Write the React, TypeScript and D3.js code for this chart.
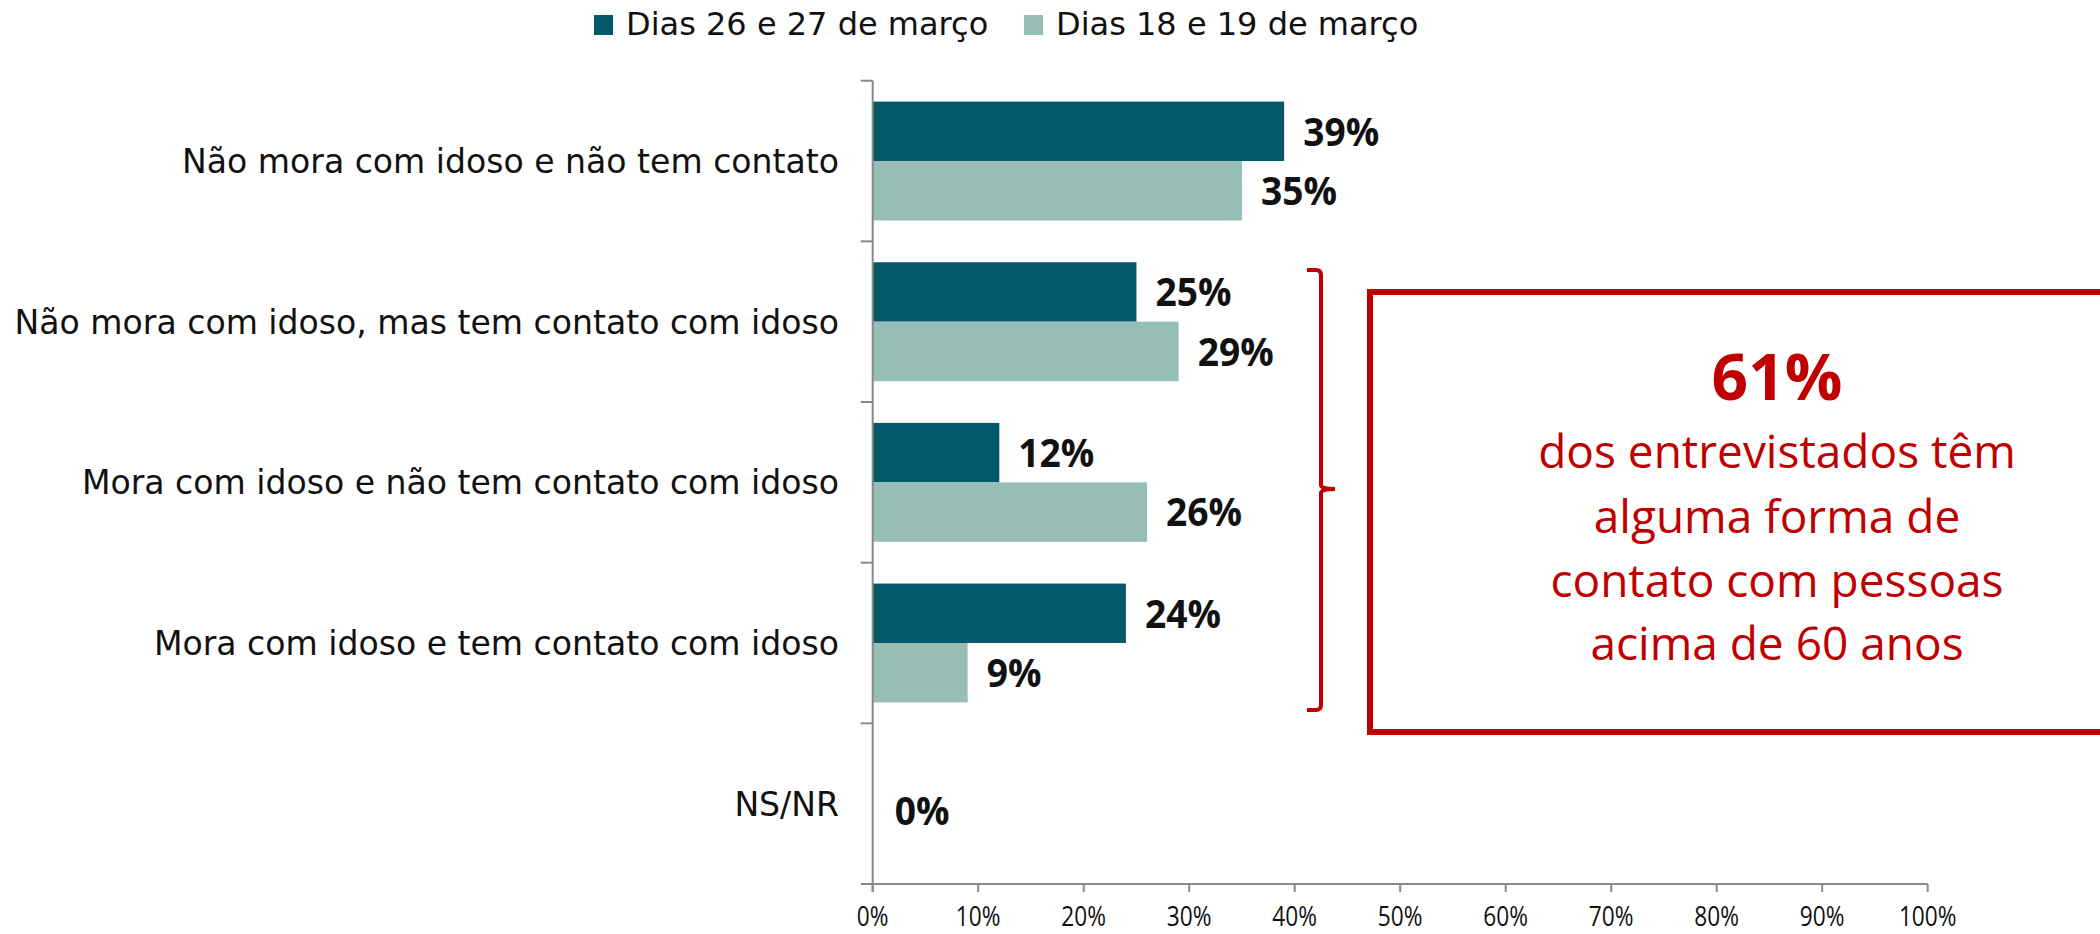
import React from "react";
import * as d3 from "d3";

const categories = [
  "Não mora com idoso e não tem contato",
  "Não mora com idoso, mas tem contato com idoso",
  "Mora com idoso e não tem contato com idoso",
  "Mora com idoso e tem contato com idoso",
  "NS/NR",
];
const seriesNames = ["Dias 26 e 27 de março", "Dias 18 e 19 de março"];
const valuesMar2627: (number | null)[] = [39, 25, 12, 24, 0];
const valuesMar1819: (number | null)[] = [35, 29, 26, 9, null];
const xTickValues = [0, 10, 20, 30, 40, 50, 60, 70, 80, 90, 100];
const calloutHeadline = "61%";
const calloutLines = [
  "dos entrevistados têm",
  "alguma forma de",
  "contato com pessoas",
  "acima de 60 anos",
];

const W = 2100;
const H = 934;
const COLORS = ["#03596A", "#96BEB6"];
const RED = "#C00000";
const AXIS = "#898989";
const SANS = "'DejaVu Sans', Verdana, sans-serif";
const OPEN = "'Open Sans', 'Noto Sans', sans-serif";

export default function App() {
  const plotLeft = 872.7;
  const plotRight = 1927.7;
  const plotTop = 80.7;
  const plotBottom = 884;
  const pad = 0.26;

  const x = d3.scaleLinear().domain([0, 100]).range([plotLeft, plotRight]);
  const y = d3
    .scaleBand<string>()
    .domain(categories)
    .range([plotTop, plotBottom])
    .paddingInner(pad)
    .paddingOuter(pad / 2);
  const inner = d3
    .scaleBand<string>()
    .domain(["s0", "s1"])
    .range([0, y.bandwidth()]);

  const series = [valuesMar2627, valuesMar1819];
  const step = y.step();
  const catTicks = categories.map((c) => (y(c) as number) - (step * pad) / 2);
  catTicks.push(plotBottom);

  const bars: React.ReactNode[] = [];
  const labels: React.ReactNode[] = [];
  categories.forEach((c, ci) => {
    const by = y(c) as number;
    series.forEach((vals, si) => {
      const v = vals[ci];
      if (v === null || v === undefined) return;
      const yy = by + (inner(si === 0 ? "s0" : "s1") as number);
      const h = inner.bandwidth();
      if (v > 0) {
        bars.push(
          <rect
            key={`b${ci}-${si}`}
            x={x(0)}
            y={yy}
            width={x(v) - x(0)}
            height={h}
            fill={COLORS[si]}
          />
        );
      }
      const otherMissing = series[1 - si][ci] === null;
      const cy = otherMissing ? by + y.bandwidth() / 2 + 7 : yy + h / 2;
      const lx = x(v) + (v === 0 ? 22 : 19);
      labels.push(
        <text
          key={`l${ci}-${si}`}
          transform={`translate(${lx},${cy + 14.3}) scale(0.93,1)`}
          fontFamily={OPEN}
          fontWeight={700}
          fontSize={40}
          fill="#111"
        >
          {`${v}%`}
        </text>
      );
    });
  });

  return (
    <svg
      width={W}
      height={H}
      style={{ position: "absolute", left: 0, top: 0, background: "#fff" }}
    >
      <rect x={0} y={0} width={W} height={H} fill="#fff" />
      {/* legend */}
      <rect x={594} y={15} width={19} height={20} fill={COLORS[0]} />
      <text x={626} y={35} fontFamily={SANS} fontSize={32} fill="#111">
        {seriesNames[0]}
      </text>
      <rect x={1024} y={15} width={19} height={20} fill={COLORS[1]} />
      <text x={1056} y={35} fontFamily={SANS} fontSize={32} fill="#111">
        {seriesNames[1]}
      </text>

      {bars}

      {/* y axis */}
      <line x1={x(0)} x2={x(0)} y1={plotTop} y2={plotBottom + 8} stroke={AXIS} strokeWidth={2} />
      {catTicks.map((t, i) => (
        <line key={`ct${i}`} x1={x(0) - 12} x2={x(0)} y1={t} y2={t} stroke={AXIS} strokeWidth={2} />
      ))}
      {/* x axis */}
      <line x1={x(0)} x2={x(100)} y1={plotBottom} y2={plotBottom} stroke={AXIS} strokeWidth={2} />
      {xTickValues.map((t) => (
        <g key={`xt${t}`}>
          <line x1={x(t)} x2={x(t)} y1={plotBottom} y2={plotBottom + 8} stroke={AXIS} strokeWidth={2} />
          <text
            transform={`translate(${x(t)},926) scale(0.81,1)`}
            textAnchor="middle"
            fontFamily={OPEN}
            fontSize={28}
            fill="#111"
          >
            {`${t}%`}
          </text>
        </g>
      ))}

      {categories.map((c) => (
        <text
          key={`cl${c}`}
          x={839}
          y={(y(c) as number) + y.bandwidth() / 2 + 12}
          textAnchor="end"
          fontFamily={SANS}
          fontSize={33.1}
          fill="#111"
        >
          {c}
        </text>
      ))}

      {labels}

      {/* brace */}
      <path
        d="M1307,270 L1316,270 Q1321,270 1321,275 L1321,485 Q1321,489 1335,489 Q1321,489 1321,493 L1321,705 Q1321,710 1316,710 L1307,710"
        fill="none"
        stroke={RED}
        strokeWidth={4}
      />
      {/* callout box */}
      <rect x={1370} y={292} width={800} height={440} fill="none" stroke={RED} strokeWidth={6} />
      <text x={1777} y={400} textAnchor="middle" fontFamily={OPEN} fontWeight={700} fontSize={64} fill={RED}>
        {calloutHeadline}
      </text>
      {calloutLines.map((l, i) => (
        <text
          key={`cl-${i}`}
          x={1777}
          y={[468, 533, 597, 660][i]}
          textAnchor="middle"
          fontFamily={OPEN}
          fontSize={46}
          fill={RED}
        >
          {l}
        </text>
      ))}
    </svg>
  );
}
